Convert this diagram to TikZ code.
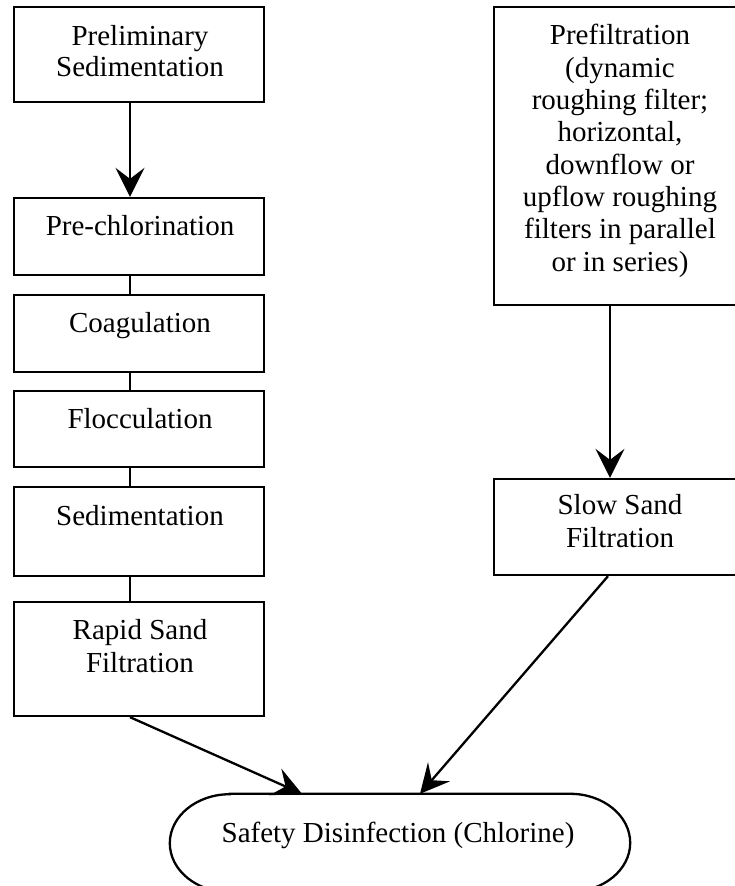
\documentclass[tikz,border=0pt]{standalone}
\usepackage{fontspec}
\setmainfont{Liberation Serif}
\usetikzlibrary{arrows.meta,calc}
\begin{document}
\begin{tikzpicture}[x=1pt,y=-1pt,
  box/.style={draw, line width=2.3pt, minimum width=250pt, inner sep=0pt},
  txt/.style={font=\fontsize{29}{32.3}\selectfont, align=center, inner sep=0pt, anchor=base},
  flow/.style={line width=2.3pt, -{Stealth[length=29pt,width=29pt,inset=11pt]}},
  link/.style={line width=2.3pt}]
\useasboundingbox (0,0) rectangle (734,886);
\coordinate (lx) at (130,0);
\coordinate (rx) at (610,0);
% left column
\node[box, minimum height=95pt]  (b1) at (139,54.5) {};
\node[box, minimum height=77pt]  (b2) at (139,236.5) {};
\node[box, minimum height=77pt]  (b3) at (139,333.5) {};
\node[box, minimum height=76pt]  (b4) at (139,429) {};
\node[box, minimum height=89pt]  (b5) at (139,531.5) {};
\node[box, minimum height=114pt] (b6) at (139,659) {};
% right column
\node[box, minimum height=298pt] (p1) at (619,156) {};
\node[box, minimum height=96pt]  (p2) at (619,527) {};
% terminal
\node[minimum width=460pt, minimum height=98pt, inner sep=0pt] (safe) at (400,843) {};
\draw[line width=2.3pt] ($(safe.north west)+(60,0)$) -- ($(safe.north east)+(-60,0)$)
  arc[start angle=-90, end angle=90, x radius=60, y radius=49]
  -- ($(safe.south west)+(60,0)$)
  arc[start angle=90, end angle=270, x radius=60, y radius=49] -- cycle;
% texts (anchor base = baseline of the last line)
\node[txt, font=\fontsize{29}{31}\selectfont] (t1) at (140,76) {Preliminary\\Sedimentation};
\node[txt] (t2) at (140,235) {Pre-chlorination};
\node[txt] (t3) at (140,332) {Coagulation};
\node[txt] (t4) at (140,428) {Flocculation};
\node[txt] (t5) at (140,525) {Sedimentation};
\node[txt] (t6) at (140,672) {Rapid Sand\\Filtration};
\node[txt] (t7) at (620,271) {Prefiltration\\(dynamic\\roughing filter;\\horizontal,\\downflow or\\upflow roughing\\filters in parallel\\or in series)};
\node[txt] (t8) at (620,547) {Slow Sand\\Filtration};
\node[txt] (t9) at (398,842) {Safety Disinfection (Chlorine)};
% connectors
\draw[flow] (b1.south -| lx) -- (b2.north -| lx);
\draw[link] (b2.south -| lx) -- (b3.north -| lx);
\draw[link] (b3.south -| lx) -- (b4.north -| lx);
\draw[link] (b4.south -| lx) -- (b5.north -| lx);
\draw[link] (b5.south -| lx) -- (b6.north -| lx);
\draw[flow] (p1.south -| rx) -- (p2.north -| rx);
\draw[flow] (b6.south -| lx) -- ($(safe.north)+(-98,0)$);
\draw[flow] ($(p2.south -| rx)+(-2,0)$) -- ($(safe.north)+(20,0)$);
\end{tikzpicture}
\end{document}
